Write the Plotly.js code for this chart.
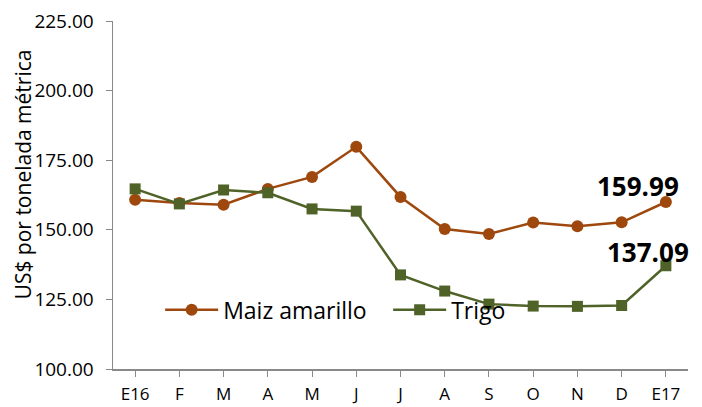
<!DOCTYPE html>
<html>
<head>
<meta charset="utf-8">
<script src="https://cdn.plot.ly/plotly-3.0.1.min.js"></script>
<style>
html,body{margin:0;padding:0;background:#fff;}
#chart{width:702px;height:407px;}
</style>
</head>
<body>
<div id="chart"></div>
<script>
const months = ["E16","F","M","A","M","J","J","A","S","O","N","D","E17"];
const maizName = "Maiz amarillo";
const trigoName = "Trigo";
const maiz = [160.8, 159.6, 159.0, 164.7, 169.0, 179.8, 161.8, 150.3, 148.5, 152.6, 151.3, 152.7, 159.99];
const trigo = [164.7, 159.3, 164.3, 163.3, 157.5, 156.7, 133.8, 128.0, 123.3, 122.6, 122.5, 122.8, 137.09];
const yTicks = [100, 125, 150, 175, 200, 225];
const yTitle = "US$ por tonelada métrica";

const xIdx = months.map((_, i) => i);
const font = "'Open Sans', 'DejaVu Sans', sans-serif";
const maizColor = "#9E480E";
const trigoColor = "#4F6228";

const traces = [
  {x: xIdx, y: maiz, name: maizName, type: "scatter", mode: "lines+markers",
   line: {color: maizColor, width: 2.5},
   marker: {color: maizColor, symbol: "circle", size: 12}},
  {x: xIdx, y: trigo, name: trigoName, type: "scatter", mode: "lines+markers",
   line: {color: trigoColor, width: 2.5},
   marker: {color: trigoColor, symbol: "square", size: 11}}
];

const last = months.length - 1;
const layout = {
  width: 702, height: 407,
  margin: {l: 113, r: 14, t: 21, b: 38},
  paper_bgcolor: "#fff", plot_bgcolor: "#fff",
  font: {family: font, color: "#000", size: 18},
  showlegend: true,
  legend: {orientation: "h", x: 0.082, y: 0.17, xanchor: "left", yanchor: "middle",
           itemwidth: 53, entrywidth: 160,
           bgcolor: "rgba(0,0,0,0)", font: {size: 23, family: font, color: "#000"}},
  xaxis: {range: [-0.5, 12.5], tickvals: xIdx, ticktext: months,
          showgrid: false, zeroline: false, showline: true, linecolor: "#898989", linewidth: 1.5,
          ticks: "outside", ticklen: 6, tickcolor: "#898989", tickfont: {size: 17},
          ticklabelstandoff: 3},
  yaxis: {range: [100, 225], tickvals: yTicks, ticktext: yTicks.map(v => v.toFixed(2)),
          showgrid: false, zeroline: false, showline: true, linecolor: "#898989", linewidth: 1.5,
          ticks: "outside", ticklen: 6, tickcolor: "#898989", tickfont: {size: 19},
          ticklabelstandoff: 8},
  annotations: [
    {xref: "paper", yref: "paper", x: -0.156, y: 0.56, xanchor: "center", yanchor: "middle",
     text: yTitle, textangle: -90,
     showarrow: false, font: {size: 21, family: font, color: "#000"}},
    {x: last, y: maiz[last], text: "<b>" + maiz[last].toFixed(2) + "</b>", showarrow: false,
     xshift: -28, yshift: 16, font: {size: 26, family: font, color: "#000"}},
    {x: last, y: trigo[last], text: "<b>" + trigo[last].toFixed(2) + "</b>", showarrow: false,
     xshift: -18, yshift: 14, font: {size: 26, family: font, color: "#000"}}
  ]
};
Plotly.newPlot("chart", traces, layout, {displayModeBar: false, staticPlot: true});
</script>
</body>
</html>
